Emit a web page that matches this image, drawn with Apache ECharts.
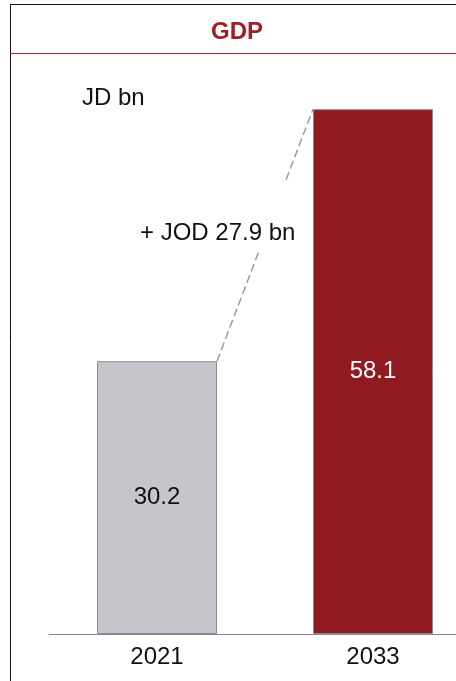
<!DOCTYPE html>
<html><head><meta charset="utf-8">
<script src="https://cdn.jsdelivr.net/npm/echarts@6/dist/echarts.min.js"></script>
<style>html,body{margin:0;padding:0;background:#fff}#c{width:456px;height:681px}</style>
</head><body><div id="c"></div>
<script>
var categories = ['2021', '2033'];
var gdpValues = [30.2, 58.1];
var barColors = ['#c5c5cc', '#901a20'];
var labelColors = ['#111111', '#ffffff'];
var titleText = 'GDP';
var unitText = 'JD bn';
var deltaText = '+ JOD 27.9 bn';

var chart = echarts.init(document.getElementById('c'));
var F = 'Liberation Sans, Arial, sans-serif';
chart.setOption({
  animation: false,
  grid: {left: 49, top: 92, width: 432, height: 542, outerBoundsMode: 'none', containLabel: false},
  xAxis: {
    type: 'category', data: categories,
    axisLine: {lineStyle: {color: '#8a8a94', width: 1}},
    axisTick: {show: false},
    axisLabel: {color: '#111', fontSize: 24, fontFamily: F, margin: 11}
  },
  yAxis: {type: 'value', min: 0, max: 60, show: false, splitLine: {show: false}},
  graphic: [
    {type: 'line', shape: {x1: 10, y1: 4.5, x2: 456, y2: 4.5}, style: {stroke: '#111', lineWidth: 1}},
    {type: 'line', shape: {x1: 10.5, y1: 4, x2: 10.5, y2: 681}, style: {stroke: '#111', lineWidth: 1}},
    {type: 'line', shape: {x1: 10, y1: 53.5, x2: 456, y2: 53.5}, style: {stroke: '#b0262c', lineWidth: 1}},
    {type: 'text', x: 237, y: 32, style: {text: titleText, fill: '#a01e24', font: 'bold 24px ' + F, textAlign: 'center', textVerticalAlign: 'middle'}},
    {type: 'text', x: 82, y: 98, style: {text: unitText, fill: '#111', font: '24px ' + F, textAlign: 'left', textVerticalAlign: 'middle'}},
    {type: 'text', x: 140, y: 233, style: {text: deltaText, fill: '#111', font: '24px ' + F, textAlign: 'left', textVerticalAlign: 'middle'}}
  ],
  series: [
    {
      type: 'bar', barWidth: 120,
      data: gdpValues.map(function (v, i) {
        return {value: v, itemStyle: {color: barColors[i], borderColor: '#8a8a94', borderWidth: 1},
          label: {color: labelColors[i]}};
      }),
      label: {show: true, position: 'inside', fontSize: 24, fontFamily: F}
    },
    {
      type: 'custom',
      data: [[0, gdpValues[0], 1, gdpValues[1]]],
      renderItem: function (params, api) {
        var p0 = api.coord([api.value(0), api.value(1)]);
        var p1 = api.coord([api.value(2), api.value(3)]);
        var x0 = p0[0] + 60, y0 = p0[1], x1 = p1[0] - 60, y1 = p1[1];
        function pt(t) { return [x0 + (x1 - x0) * t, y0 + (y1 - y0) * t]; }
        var a = pt(0), b = pt(0.44), c = pt(0.72), d = pt(1);
        var st = {stroke: '#9a9aa2', lineWidth: 1.5, lineDash: [8, 4]};
        return {type: 'group', children: [
          {type: 'line', shape: {x1: a[0], y1: a[1], x2: b[0], y2: b[1]}, style: st},
          {type: 'line', shape: {x1: c[0], y1: c[1], x2: d[0], y2: d[1]}, style: st}
        ]};
      },
      z: 5
    }
  ]
});
</script></body></html>
